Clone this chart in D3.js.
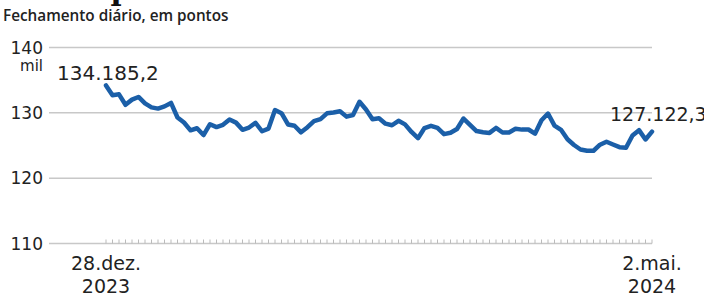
<!DOCTYPE html>
<html>
<head>
<meta charset="utf-8">
<script src="https://cdn.jsdelivr.net/npm/d3@7"></script>
<style>
  body { margin: 0; background: #fff; }
  svg { display: block; }
</style>
</head>
<body>
<svg width="704" height="297"></svg>
<script>
// Ibovespa, fechamento diario (mil pontos), 28.dez.2023 a 2.mai.2024
var values = [
  134.19, 132.70, 132.83, 131.23, 132.02, 132.43, 131.45, 130.84, 130.65, 130.99,
  131.52, 129.29, 128.52, 127.32, 127.64, 126.60, 128.26, 127.82, 128.17, 128.97,
  128.50, 127.40, 127.75, 128.48, 127.18, 127.59, 130.42, 129.95, 128.22, 128.03,
  127.02, 127.80, 128.73, 129.04, 129.92, 130.05, 130.24, 129.42, 129.67, 131.69,
  130.50, 129.02, 129.18, 128.34, 128.10, 128.78, 128.23, 127.07, 126.12, 127.67,
  128.01, 127.69, 126.74, 126.95, 127.53, 129.13, 128.16, 127.21, 127.03, 126.93,
  127.69, 126.99, 127.00, 127.55, 127.43, 127.45, 126.80, 128.86, 129.89, 128.05,
  127.40, 125.95, 125.08, 124.39, 124.20, 124.20, 125.12, 125.57, 125.15, 124.74,
  124.65, 126.53, 127.35, 125.92, 127.12
];
var yTicks = [110, 120, 130, 140];
var firstLabel = ["28.dez.", "2023"];
var lastLabel = ["2.mai.", "2024"];
var firstValue = "134.185,2";
var lastValue = "127.122,3";

var svg = d3.select("svg");
var left = 106, right = 652, gridLeft = 49;

var x = d3.scaleLinear().domain([0, values.length - 1]).range([left, right]);
var y = d3.scaleLinear().domain([110, 140]).range([243.5, 47.5]);

// title (cut off at the top)
svg.append("text")
  .attr("x", 2).attr("y", 0)
  .style("font-family", "'DejaVu Serif', serif")
  .style("font-weight", "bold")
  .style("font-size", "30px")
  .attr("fill", "#111")
  .text("Ibovespa recua");

svg.append("text")
  .attr("x", 3).attr("y", 21)
  .style("font-family", "'Open Sans', sans-serif")
  .style("font-weight", "600")
  .style("font-size", "15.3px")
  .attr("fill", "#222")
  .text("Fechamento diário, em pontos");

// gridlines
svg.append("g").selectAll("line")
  .data(yTicks)
  .enter().append("line")
    .attr("x1", gridLeft).attr("x2", right)
    .attr("y1", function(d) { return y(d); })
    .attr("y2", function(d) { return y(d); })
    .attr("stroke", "#c8c8c8")
    .attr("stroke-width", 1.5);

// y labels
svg.append("g").selectAll("text")
  .data(yTicks)
  .enter().append("text")
    .attr("x", 43)
    .attr("y", function(d) { return y(d) + 6; })
    .attr("text-anchor", "end")
    .style("font-family", "'DejaVu Sans', sans-serif")
    .style("font-size", "17px")
    .attr("fill", "#222")
    .text(function(d) { return d; });

svg.append("text")
  .attr("x", 43).attr("y", y(140) + 23)
  .attr("text-anchor", "end")
  .style("font-family", "'DejaVu Sans', sans-serif")
  .style("font-size", "15px")
  .attr("fill", "#222")
  .text("mil");

// small day ticks on the bottom line
svg.append("g").selectAll("line")
  .data(d3.range(values.length))
  .enter().append("line")
    .attr("x1", function(i) { return x(i); })
    .attr("x2", function(i) { return x(i); })
    .attr("y1", y(110))
    .attr("y2", y(110) - 4)
    .attr("stroke", "#bbb")
    .attr("stroke-width", 1);

// line
var line = d3.line()
  .x(function(d, i) { return x(i); })
  .y(function(d) { return y(d); });

svg.append("path")
  .datum(values)
  .attr("d", line)
  .attr("fill", "none")
  .attr("stroke", "#1b5fa8")
  .attr("stroke-width", 4.5)
  .attr("stroke-linejoin", "round")
  .attr("stroke-linecap", "round");

// value labels
svg.append("text")
  .attr("x", 57).attr("y", 80)
  .style("font-family", "'DejaVu Sans', sans-serif")
  .style("font-size", "20px")
  .attr("fill", "#222")
  .text(firstValue);

svg.append("text")
  .attr("x", 610).attr("y", 121)
  .style("font-family", "'DejaVu Sans', sans-serif")
  .style("font-size", "19px")
  .attr("fill", "#222")
  .text(lastValue);

// x labels
function xLabel(i, lines) {
  var t = svg.append("text")
    .attr("text-anchor", "middle")
    .style("font-family", "'DejaVu Sans', sans-serif")
    .style("font-size", "19px")
    .attr("fill", "#222");
  lines.forEach(function(s, k) {
    t.append("tspan")
      .attr("x", x(i))
      .attr("y", 270 + k * 23)
      .text(s);
  });
}
xLabel(0, firstLabel);
xLabel(values.length - 1, lastLabel);
</script>
</body>
</html>
